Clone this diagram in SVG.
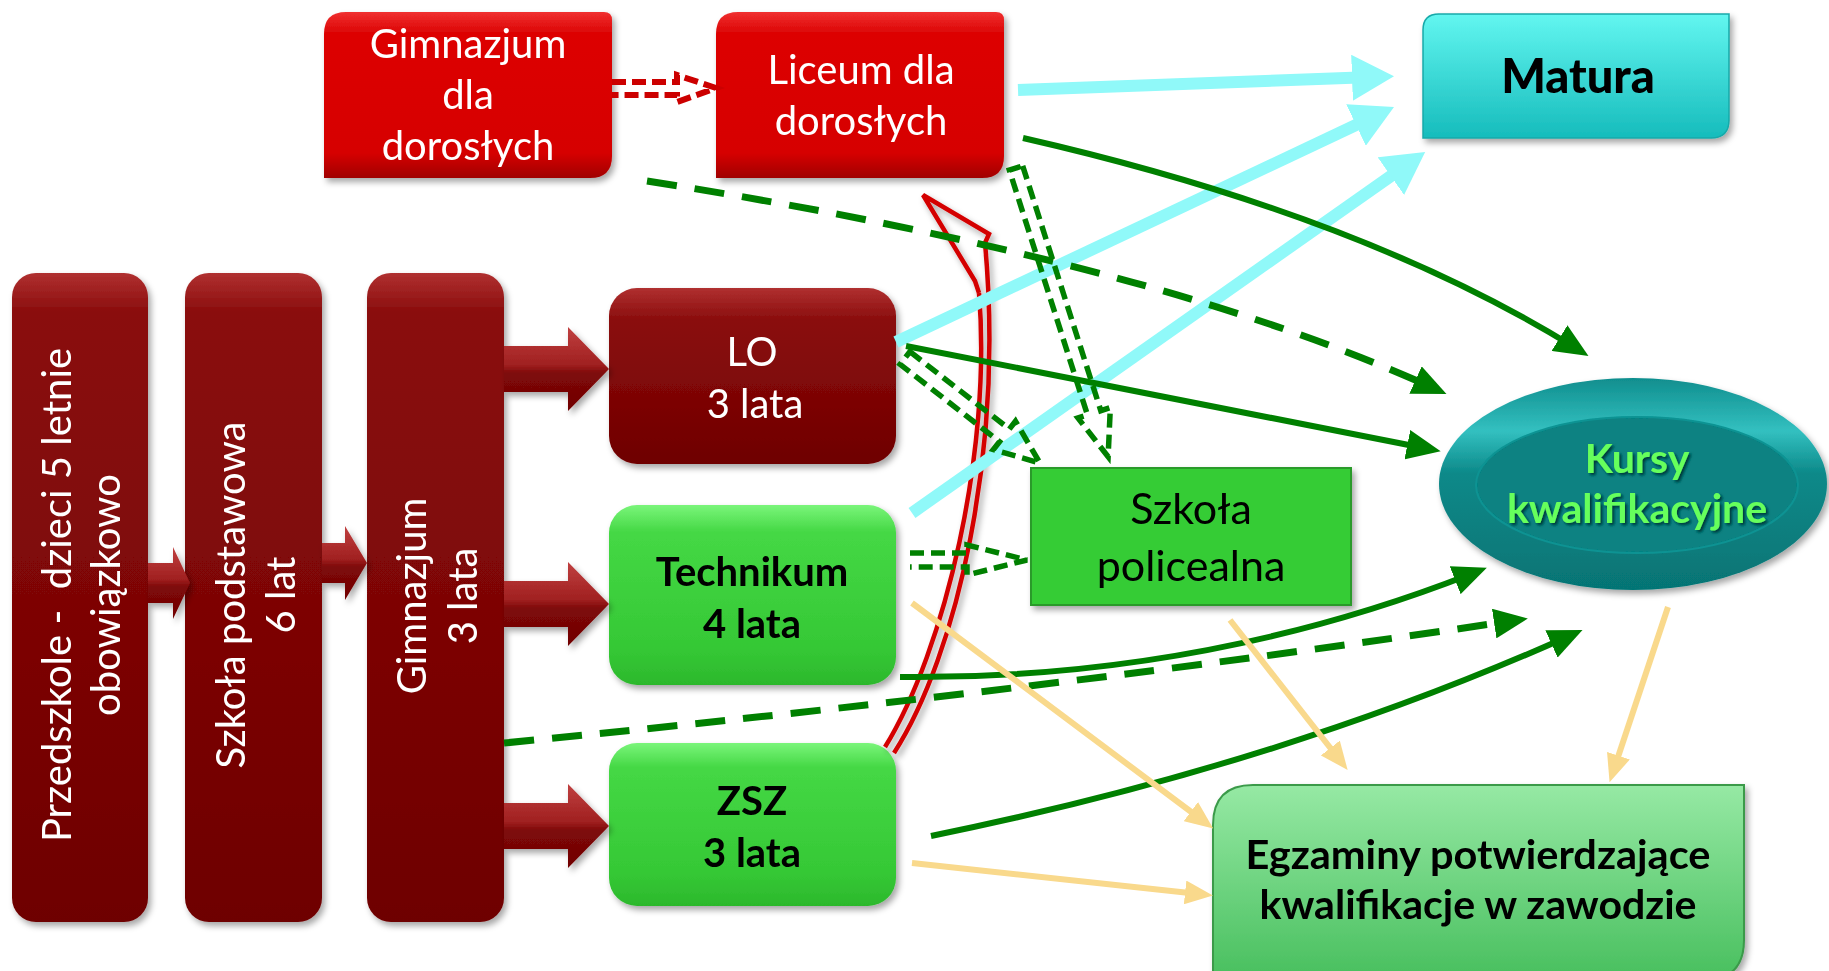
<svg xmlns="http://www.w3.org/2000/svg" width="1829" height="971" viewBox="0 0 1829 971">
<defs>
<style>
.t{font-family:Lato,"Open Sans","Liberation Sans",sans-serif;font-size:40px;text-anchor:middle}
.w{fill:#fff}
.b{fill:#000;font-weight:bold}
.cy{fill:none;stroke:#90f9f9;stroke-width:12}
.gr{fill:none;stroke:#008000;stroke-width:6}
.gd{fill:none;stroke:#008000;stroke-width:7;stroke-dasharray:30 18}
.tan{fill:none;stroke:#f9d98c;stroke-width:6}
.bd{fill:none;stroke:#008000;stroke-width:5.5;stroke-dasharray:14 7}
.rl{fill:none;stroke:#d40000;stroke-width:4.5}
</style>
<filter id="sh" x="-10%" y="-10%" width="130%" height="130%"><feDropShadow dx="3" dy="4" stdDeviation="3" flood-color="#000" flood-opacity="0.35"/></filter>
<filter id="ts" x="-10%" y="-20%" width="130%" height="150%"><feDropShadow dx="2" dy="2" stdDeviation="1.5" flood-color="#000" flood-opacity="0.6"/></filter>
<linearGradient id="dr" x1="0" y1="0" x2="0" y2="1"><stop offset="0" stop-color="#b03030"/><stop offset="0.06" stop-color="#8a0d0d"/><stop offset="0.5" stop-color="#7e0606"/><stop offset="1" stop-color="#6e0202"/></linearGradient>
<linearGradient id="drs" x1="0" y1="0" x2="0" y2="1"><stop offset="0" stop-color="#b03030"/><stop offset="0.18" stop-color="#8a0d0d"/><stop offset="0.6" stop-color="#7e0606"/><stop offset="1" stop-color="#6e0202"/></linearGradient>
<linearGradient id="ar" x1="0" y1="0" x2="0" y2="1"><stop offset="0" stop-color="#c04040"/><stop offset="0.45" stop-color="#a02020"/><stop offset="0.55" stop-color="#7e0808"/><stop offset="1" stop-color="#700303"/></linearGradient>
<linearGradient id="rr" x1="0" y1="0" x2="0" y2="1"><stop offset="0" stop-color="#f03030"/><stop offset="0.12" stop-color="#dd0606"/><stop offset="0.85" stop-color="#d60000"/><stop offset="1" stop-color="#a00000"/></linearGradient>
<linearGradient id="gg" x1="0" y1="0" x2="0" y2="1"><stop offset="0" stop-color="#7af57a"/><stop offset="0.15" stop-color="#45d845"/><stop offset="0.8" stop-color="#35c835"/><stop offset="1" stop-color="#2cb82c"/></linearGradient>
<linearGradient id="cg" x1="0" y1="0" x2="0" y2="1"><stop offset="0" stop-color="#62f6f0"/><stop offset="1" stop-color="#16bcbc"/></linearGradient>
<linearGradient id="eg" x1="0" y1="0" x2="0" y2="1"><stop offset="0" stop-color="#96e9a4"/><stop offset="1" stop-color="#48bf5e"/></linearGradient>
<linearGradient id="kg" x1="0" y1="0" x2="0" y2="1"><stop offset="0" stop-color="#108e8e"/><stop offset="0.25" stop-color="#33c0c0"/><stop offset="0.45" stop-color="#0c8989"/><stop offset="1" stop-color="#067474"/></linearGradient>
<marker id="mc" viewBox="0 0 42 46" markerWidth="42" markerHeight="46" refX="21" refY="23" orient="auto" markerUnits="userSpaceOnUse"><path d="M0,0 L42,23 L0,46 Z" fill="#90f9f9"/></marker>
<marker id="mg" viewBox="0 0 34 30" markerWidth="34" markerHeight="30" refX="17" refY="15" orient="auto" markerUnits="userSpaceOnUse"><path d="M0,0 L34,15 L0,30 Z" fill="#008000"/></marker>
<marker id="mt" viewBox="0 0 28 24" markerWidth="28" markerHeight="24" refX="14" refY="12" orient="auto" markerUnits="userSpaceOnUse"><path d="M0,0 L28,12 L0,24 Z" fill="#f9d98c"/></marker>
</defs>
<rect width="1829" height="971" fill="#fff"/>

<g id="n-przedszkole" filter="url(#sh)">
<rect x="12" y="273" width="136" height="649" rx="24" fill="url(#dr)"/>
<text class="t w" xml:space="preserve" transform="translate(56,595) rotate(-90)" dominant-baseline="central">Przedszkole -  dzieci 5 letnie</text>
<text class="t w" transform="translate(105,595) rotate(-90)" dominant-baseline="central">obowiązkowo</text>
</g>
<g id="n-podstawowa" filter="url(#sh)">
<rect x="185" y="273" width="137" height="649" rx="24" fill="url(#dr)"/>
<text class="t w" transform="translate(230,595) rotate(-90)" dominant-baseline="central">Szkoła podstawowa</text>
<text class="t w" transform="translate(280,595) rotate(-90)" dominant-baseline="central">6 lat</text>
</g>
<g id="n-gimnazjum" filter="url(#sh)">
<rect x="367" y="273" width="137" height="649" rx="24" fill="url(#dr)"/>
<text class="t w" transform="translate(411,596) rotate(-90)" dominant-baseline="central">Gimnazjum</text>
<text class="t w" transform="translate(462,596) rotate(-90)" dominant-baseline="central">3 lata</text>
</g>
<g id="n-lo" filter="url(#sh)">
<rect x="609" y="288" width="287" height="176" rx="28" fill="url(#drs)"/>
<text class="t w" x="752" y="366">LO</text>
<text class="t w" x="755" y="418">3 lata</text>
</g>
<g id="n-technikum" filter="url(#sh)">
<rect x="609" y="505" width="287" height="180" rx="28" fill="url(#gg)"/>
<text class="t b" x="752" y="586">Technikum</text>
<text class="t b" x="752" y="638">4 lata</text>
</g>
<g id="n-zsz" filter="url(#sh)">
<rect x="609" y="743" width="287" height="163" rx="28" fill="url(#gg)"/>
<text class="t b" x="752" y="815">ZSZ</text>
<text class="t b" x="752" y="867">3 lata</text>
</g>
<g id="n-gim-dor" filter="url(#sh)">
<path d="M346,12 H604 Q612,12 612,20 V156 Q612,178 590,178 H324 V34 Q324,12 346,12 Z" fill="url(#rr)"/>
<text class="t w" x="468" y="58">Gimnazjum</text>
<text class="t w" x="468" y="109">dla</text>
<text class="t w" x="468" y="160">dorosłych</text>
</g>
<g id="n-lic-dor" filter="url(#sh)">
<path d="M738,12 H996 Q1004,12 1004,20 V156 Q1004,178 982,178 H716 V34 Q716,12 738,12 Z" fill="url(#rr)"/>
<text class="t w" x="861" y="84">Liceum dla</text>
<text class="t w" x="861" y="135">dorosłych</text>
</g>
<g id="n-matura" filter="url(#sh)">
<path d="M1439,14 H1729 V120 Q1729,138 1711,138 H1423 V30 Q1423,14 1439,14 Z" fill="url(#cg)" stroke="#17a9a9" stroke-width="1.5"/>
<text class="t b" x="1578" y="93" style="font-size:47px;font-weight:900">Matura</text>
</g>
<g id="n-policealna" filter="url(#sh)">
<rect x="1031" y="468" width="320" height="137" fill="#35cc35" stroke="#2a9a2a" stroke-width="2"/>
<text class="t" x="1191" y="524" style="font-size:43px">Szkoła</text>
<text class="t" x="1191" y="581" style="font-size:43px">policealna</text>
</g>
<g id="n-kursy" filter="url(#sh)">
<ellipse cx="1633" cy="484" rx="194" ry="106" fill="url(#kg)"/>
<ellipse cx="1637" cy="485" rx="161" ry="68" fill="#078282" stroke="#0b9393" stroke-width="2"/>
<g filter="url(#ts)">
<text class="t" x="1637" y="473" style="font-size:41px;font-weight:bold;fill:#66ff5c">Kursy</text>
<text class="t" x="1637" y="523" style="font-size:41px;font-weight:bold;fill:#66ff5c">kwalifikacyjne</text>
</g>
</g>
<g id="n-egzaminy" filter="url(#sh)">
<path d="M1253,785 H1744 V940 Q1744,980 1704,980 H1213 V825 Q1213,785 1253,785 Z" fill="url(#eg)" stroke="#3a9a4a" stroke-width="2"/>
<text class="t b" x="1478" y="869" textLength="465" lengthAdjust="spacingAndGlyphs">Egzaminy potwierdzające</text>
<text class="t b" x="1478" y="919" textLength="437" lengthAdjust="spacingAndGlyphs">kwalifikacje w zawodzie</text>
</g>

<g id="connectors">
<g filter="url(#sh)">
<path d="M148,563 H173 V547 L190,583 L173,619 V603 H148 Z" fill="url(#ar)"/>
<path d="M322,543 H345 V526 L367,563 L345,600 V583 H322 Z" fill="url(#ar)"/>
<path d="M504,346 H568 V327 L609,369 L568,411 V392 H504 Z" fill="url(#ar)"/>
<path d="M504,581 H568 V562 L609,604 L568,646 V627 H504 Z" fill="url(#ar)"/>
<path d="M504,803 H568 V784 L609,826 L568,868 V849 H504 Z" fill="url(#ar)"/>
</g>
<path d="M612,82 H677 V75 L716,88 L677,102 V95 H612" fill="none" stroke="#cc0000" stroke-width="6" stroke-dasharray="14 6"/>
<g filter="url(#sh)">
<path class="rl" d="M885,747 C945,650 992,450 979,293"/>
<path class="rl" d="M894,753 C957,655 1004,450 985,243"/>
<path class="rl" d="M985,243 L989,234 L923,195 L975,281 L979,293" stroke-linejoin="miter"/>
</g>
<path class="cy" d="M1018,90 L1373,77" marker-end="url(#mc)"/>
<path class="cy" d="M896,342 L1375,116" marker-end="url(#mc)"/>
<path class="cy" d="M912,513 L1408,164" marker-end="url(#mc)"/>
<path class="bd" transform="translate(1016,168) rotate(72.3)" d="M0,-7 H257 V-17 L303,0 L257,17 V7 H0 Z"/>
<path class="bd" transform="translate(905,358) rotate(37.9)" d="M0,-8 H126 V-18 L171,0 L126,18 V8 H0 Z"/>
<path class="bd" d="M910,553 H967 V545 L1027,560 L967,575 V567 H910"/>
<path class="gr" d="M1023,138 Q1360,215 1574,347" marker-end="url(#mg)"/>
<path class="gr" d="M906,346 L1424,448" marker-end="url(#mg)"/>
<path class="gr" d="M900,677 Q1200,680 1471,574" marker-end="url(#mg)"/>
<path class="gr" d="M931,836 Q1280,765 1567,637" marker-end="url(#mg)"/>
<path class="gd" d="M647,181 Q1150,260 1431,387" marker-end="url(#mg)"/>
<path class="gd" d="M504,743 Q1050,690 1511,621" marker-end="url(#mg)"/>
<path class="tan" d="M912,603 L1202,820" marker-end="url(#mt)"/>
<path class="tan" d="M1230,620 L1339,759" marker-end="url(#mt)"/>
<path class="tan" d="M1668,607 L1614,769" marker-end="url(#mt)"/>
<path class="tan" d="M912,863 L1199,894" marker-end="url(#mt)"/>
</g>
</svg>
